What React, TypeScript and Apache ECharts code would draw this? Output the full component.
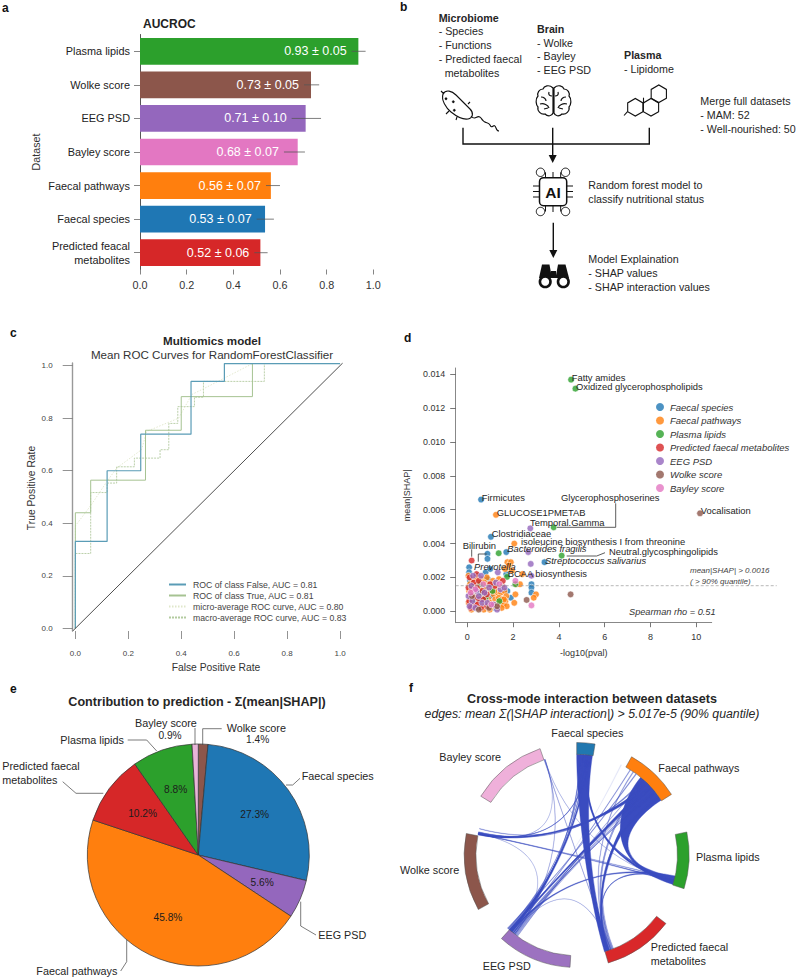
import React, { useEffect, useRef } from "react";
import * as echarts from "echarts";

const FONT = "Liberation Sans";
const C = {
  species: "#1f77b4", pathways: "#ff7f0e", plasma: "#2ca02c", pred: "#d62728",
  eeg: "#9467bd", wolke: "#8c564b", bayley: "#e377c2",
};

// ---- panel a
const aCategories = ["Plasma lipids", "Wolke score", "EEG PSD", "Bayley score", "Faecal pathways", "Faecal species", "Predicted feacal\nmetabolites"];
const aValues = [0.936, 0.733, 0.71, 0.676, 0.561, 0.536, 0.516];
const aColors = [C.plasma, C.wolke, C.eeg, C.bayley, C.pathways, C.species, C.pred];
const aLow = [0.907, 0.703, 0.65, 0.617, 0.54, 0.5, 0.49];
const aHigh = [0.967, 0.768, 0.776, 0.707, 0.6, 0.574, 0.547];
const aLabels = ["0.93 ± 0.05", "0.73 ± 0.05", "0.71 ± 0.10", "0.68 ± 0.07", "0.56 ± 0.07", "0.53 ± 0.07", "0.52 ± 0.06"];

// ---- panel c
const rocFalse = [[0,0],[0,0.331],[0.12,0.331],[0.12,0.6],[0.247,0.6],[0.247,0.739],[0.437,0.739],[0.437,0.94],[0.563,0.94],[0.563,1.008],[1,1.008]];
const rocTrue = [[0,0],[0,0.44],[0.058,0.44],[0.058,0.564],[0.265,0.564],[0.265,0.754],[0.4,0.754],[0.4,0.882],[0.669,0.882],[0.669,1.008],[1,1.008]];
const rocMicro = [[0,0],[0,0.39],[0.06,0.47],[0.12,0.56],[0.156,0.61],[0.25,0.68],[0.27,0.75],[0.39,0.8],[0.44,0.89],[0.5,0.92],[0.67,1.008],[1,1.008]];
const rocMacro = [[0,0],[0,0.285],[0.058,0.285],[0.058,0.517],[0.12,0.517],[0.12,0.553],[0.156,0.553],[0.156,0.615],[0.223,0.615],[0.223,0.648],[0.32,0.648],[0.32,0.68],[0.353,0.68],[0.353,0.78],[0.387,0.78],[0.387,0.844],[0.45,0.844],[0.45,0.88],[0.484,0.88],[0.484,0.94],[0.714,0.94],[0.714,1.008],[1,1.008]];
const rocDiagonal = [[-0.01,-0.01],[1.01,1.01]];
const rocNames = ["ROC of class False, AUC = 0.81", "ROC of class True, AUC = 0.81", "micro-average ROC curve, AUC = 0.80", "macro-average ROC curve, AUC = 0.83"];

// ---- panel d
const ptsSpecies = [[0.6,0.0066],[1.03,0.0044],[1.7,0.0035],[3.37,0.0029],[0.88,0.0034],[0.88,0.0031],[0.08,0.0026],[0.08,0.0023],[0.8,0.0023],[1.7,0.0022],[2.8,0.0016],[2.8,0.0014],[2.8,0.0011],[1.9,0.0008],[1.75,0.0012],[1.0,0.0025],[0.12,0.0018],[0.35,0.0011],[0.55,0.0005],[0.72,0.0014],[1.05,0.0009],[1.2,0.0002],[0.25,0.0004],[0.9,0.0019],[0.45,0.0021]];
const ptsPathways = [[1.25,0.0057],[2.05,0.004],[1.75,0.0029],[1.9,0.0029],[1.8,0.0027],[1.65,0.0025],[1.95,0.0024],[2.4,0.0022],[2.15,0.0016],[2.3,0.0016],[2.1,0.001],[2.05,0.0005],[3.0,0.001],[2.9,0.0008],[0.05,0.0021],[0.22,0.0019],[0.38,0.002],[0.62,0.0019],[0.85,0.002],[0.12,0.0016],[0.3,0.0015],[0.47,0.0017],[0.74,0.0017],[0.95,0.0016],[1.12,0.0018],[1.38,0.0019],[0.08,0.0012],[0.26,0.0012],[0.55,0.0013],[0.82,0.0013],[1.02,0.0012],[1.28,0.0014],[1.53,0.0015],[0.15,0.0008],[0.4,0.0009],[0.66,0.0009],[0.92,0.0007],[1.15,0.001],[1.33,0.0011],[1.47,0.0011],[1.62,0.0012],[1.7,0.0009],[0.06,0.0005],[0.33,0.0005],[0.58,0.0003],[0.78,0.0004],[1.03,0.0005],[1.22,0.0007],[1.38,0.0008],[1.52,0.0007],[1.66,0.0006],[0.18,0.0001],[0.44,0.0002],[0.72,0.0001],[1.1,0.0003],[1.28,0.0004],[1.44,0.0005],[1.58,0.0004],[1.72,0.0003],[1.35,0.0002],[1.5,0.0002],[0.98,0.0001],[1.6,0.0007],[1.18,0.0012]];
const ptsPlasma = [[4.53,0.01368],[4.72,0.01315],[3.77,0.00496],[4.12,0.00329],[1.37,0.00343],[1.73,0.00203],[0.55,0.0016],[1.1,0.0012],[2.1,0.0016],[0.3,0.0007],[0.8,0.0008],[1.4,0.0006],[0.6,0.0011]];
const ptsPred = [[0.19,0.003],[0.4,0.0022],[0.1,0.002],[0.28,0.0017],[0.5,0.0018],[0.05,0.0014],[0.2,0.0013],[0.42,0.0014],[0.65,0.0012],[0.12,0.001],[0.32,0.0008],[0.52,0.0007],[0.85,0.001],[0.08,0.0006],[0.25,0.0003],[0.43,0.0004],[0.7,0.0007],[0.85,0.0003],[1.2,0.0015],[1.0,0.0016],[1.55,0.0018],[0.6,0.0002],[0.15,0.0002]];
const ptsEeg = [[2.75,0.0049],[2.66,0.0035],[2.77,0.0028],[2.8,0.0021],[1.33,0.0023],[0.25,0.0021],[0.6,0.0021],[0.18,0.0015],[0.4,0.0012],[0.05,0.0009],[0.22,0.0006],[0.5,0.0009],[0.75,0.0011],[0.95,0.0014],[1.25,0.0017],[1.45,0.0013],[0.1,0.0003],[0.35,0.0002],[0.65,0.0005],[0.88,0.0005],[1.15,0.0004],[1.3,0.0001],[1.62,0.0014]];
const ptsWolke = [[10.16,0.00579],[4.51,0.001],[2.59,0.00067],[1.3,0.0003],[0.5,0.0001],[0.2,0.0009],[0.95,0.0002]];
const ptsBayley = [[2.8,0.00035],[2.1,0.0018],[1.4,0.0016],[0.7,0.0016],[0.35,0.0013],[1.05,0.0004],[0.15,0.0011]];
const dNames = ["Faecal species", "Faecal pathways", "Plasma lipids", "Predicted faecal metabolites", "EEG PSD", "Wolke score", "Bayley score"];
const dSets = [ptsSpecies, ptsPathways, ptsPlasma, ptsPred, ptsEeg, ptsWolke, ptsBayley];
const dColors = [C.species, C.pathways, C.plasma, C.pred, C.eeg, C.wolke, C.bayley];

// ---- panel e
const pieNames = ["Wolke score", "Faecal species", "EEG PSD", "Faecal pathways", "Predicted faecal metabolites", "Plasma lipids", "Bayley score"];
const pieValues = [1.4, 27.3, 5.6, 45.8, 10.2, 8.8, 0.9];
const pieColors = [C.wolke, C.species, C.eeg, C.pathways, C.pred, C.plasma, "#e8b4d8"];

// ---- panel f: [startAngle, endAngle] in degrees, counter-clockwise from east
const arcAngles = [[90,80.6],[60.8,32.6],[11.8,-17.4],[-37.5,-73.7],[-93.4,-132],[-151,-191],[148.5,109]];
const arcColors = ["#2178b0", C.pathways, C.plasma, "#d9282a", "#9c72c0", C.wolke, "#efb0da"];
// ribbons: from angle a1, a2 to angle b1, b2, opacity, optional curve pull at each end
const ribbons: number[][] = [
  [90,81,-71,-74,1,0.5,0.35],
  [50.5,33,-14,-17,1,0.62,0.25],
  [46,44,168.5,167.5,1,0.6,0.3],
  [45,43,-131,-132,1,0.6,0.3],
  [42,39,-71.5,-72.5,1,0.6,0.3],
  [85,83.5,-14,-16,1],
  [83.5,82.5,-130,-132,1],
  [82.5,82,167.5,167,0.9],
  [44,43.7,-128,-128.3,0.6],
  [43,42.7,-129,-129.3,0.6],
  [42,41.7,-127,-127.3,0.5],
  [40,39.7,-127.5,-127.8,0.6],
  [39,38.7,-126.5,-126.8,0.5],
  [48,47.7,-126,-126.3,0.5],
  [47,46.7,-70,-70.4,0.6],
  [46,45.7,-69,-69.4,0.6],
  [36,35.7,-69.5,-69.8,0.6],
  [35,34.7,-68.5,-68.8,0.5],
  [49,48.7,167,166.7,0.7],
  [48.5,48.2,165,164.7,0.6],
  [85,84.6,-130.5,-131,0.8],
  [84.5,84,-13,-14,0.9],
  [86.5,86,-133,-132,0.7],
  [88,87.5,-129,-129.5,0.8],
  [109,108.7,-70,-70.3,0.5],
  [108.7,108.5,-15,-15.2,0.4],
  [108.5,108.3,-128,-128.3,0.5],
  [108.4,108.2,167.5,167.2,0.4],
  [168,167.8,-15,-15.6,0.8],
  [167.8,167.6,-13.5,-14,0.6],
  [167.6,167.4,-128,-128.3,0.4],
  [-130,-131,-12,-13,0.95],
  [-129,-129.3,-70,-70.4,0.4],
  [-71,-72,-12.5,-13.5,0.85],
  [38,37.8,-128.5,-129,0.6],
  [56,55.5,-70.5,-71,0.5],
  [58,57.6,-129.5,-130,0.5],
  [54,53.5,-133,-133.5,0.6],
  [64,63.5,-128,-127.7,0.1],
];

const T = (x: number, y: number, text: string, o: any = {}) => ({
  type: "text", x, y, z: 100, silent: true, rotation: o.rot ?? 0,
  style: {
    text, fontFamily: FONT, fontSize: o.size ?? 10.7, fontWeight: o.bold ? "bold" : "normal",
    fontStyle: o.italic ? "italic" : "normal", fill: o.color ?? "#262626",
    align: o.align ?? "left", verticalAlign: "middle",
  },
});
const L = (pts: number[][], o: any = {}) => ({
  type: "polyline", z: o.z ?? 99, silent: true, shape: { points: pts },
  style: { stroke: o.color ?? "#444", lineWidth: o.w ?? 0.8, fill: "none", lineDash: o.dash },
});
const P = (pts: number[][], fill = "#111") => ({
  type: "polygon", z: 99, silent: true, shape: { points: pts }, style: { fill },
});
const Ci = (cx: number, cy: number, r: number, stroke: string, w: number, fill = "#fff") => ({
  type: "circle", z: 100, silent: true, shape: { cx, cy, r }, style: { stroke, lineWidth: w, fill },
});
const hex = (cx: number, cy: number, r: number) => {
  const out: number[][] = [];
  for (let i = 0; i < 6; i++) {
    const a = (Math.PI / 3) * i + Math.PI / 6;
    out.push([cx + r * Math.cos(a), cy + r * Math.sin(a)]);
  }
  return out;
};

const BACTERIA = "M443 94 C446 89 452 91 456 95 L470 109 C474 113 473 118 468 119 C462 120 456 116 451 112 C446 108 441 100 443 94 Z M471 116 C476 122 477 113 481 118 C485 125 488 121 490 125 C492 130 494 122 496 128 C497 131 498 131 499 131 M441 91 L444 94 M468 104 L470 102 M446 114 L449 111 M456 120 L457 117";
const BRAIN = "M553 88 C549 84 544 86 543 89 C539 89 537 93 538 96 C535 99 536 105 538 107 C537 111 541 115 545 114 C548 117 552 116 553 113 Z M554 88 C558 84 563 86 564 89 C568 89 570 93 569 96 C572 99 571 105 569 107 C570 111 566 115 562 114 C559 117 555 116 554 113 Z M541 97 C544 97 546 99 546 101 M540 104 C544 103 548 105 549 108 M549 92 C548 95 550 96 552 96 M544 109 L548 108 M566 97 C563 97 561 99 561 101 M567 104 C563 103 559 105 558 108 M558 92 C559 95 557 96 555 96 M563 109 L559 108";
echarts.graphic.registerShape("bacteriaIcon", echarts.graphic.extendPath(BACTERIA, {}) as any);
echarts.graphic.registerShape("brainIcon", echarts.graphic.extendPath(BRAIN, {}) as any);

const CX = 576.7, CY = 855, RO = 112.5, RI = 100.7, K = 0.35;
const pol = (a: number, r: number) => {
  const t = (a * Math.PI) / 180;
  return [CX + r * Math.cos(t), CY - r * Math.sin(t)];
};

function buildGraphic() {
  const g: any[] = [];
  // panel letters
  [["a", 2, 8], ["b", 400, 7], ["c", 10, 333], ["d", 404, 338], ["e", 10, 689], ["f", 409, 688]].forEach(([s, x, y]: any) =>
    g.push(T(x, y, s, { bold: true, size: 12, color: "#111" })));
  // panel a
  g.push(T(143, 24, "AUCROC", { bold: true, size: 12, color: "#222" }));

  // panel b text
  g.push(T(438.7, 17.5, "Microbiome", { bold: true }));
  [["- Species", 31], ["- Functions", 45], ["- Predicted faecal", 59]].forEach(([s, y]: any) => g.push(T(438.7, y, s)));
  g.push(T(444.7, 73, "metabolites"));
  g.push(T(537, 28.7, "Brain", { bold: true }));
  [["- Wolke", 42.5], ["- Bayley", 56], ["- EEG PSD", 70]].forEach(([s, y]: any) => g.push(T(537, y, s)));
  g.push(T(624, 55, "Plasma", { bold: true }));
  g.push(T(624, 69, "- Lipidome"));
  [["Merge full datasets", 101], ["- MAM: 52", 115], ["- Well-nourished: 50", 129]].forEach(([s, y]: any) => g.push(T(700.3, y, s)));
  [["Random forest model to", 185], ["classify nutritional status", 199]].forEach(([s, y]: any) => g.push(T(588.3, y, s)));
  [["Model Explaination", 259], ["- SHAP values", 273], ["- SHAP interaction values", 287]].forEach(([s, y]: any) => g.push(T(588.3, y, s)));
  // panel b icons
  g.push({ type: "bacteriaIcon", z: 99, silent: true, style: { stroke: "#111", lineWidth: 1.1, fill: "none" } });
  [[446, 98.7], [453.3, 101.7], [454.3, 110.3]].forEach(([x, y]) => g.push(Ci(x, y, 1.2, "#111", 0.3, "#111")));
  g.push({ type: "brainIcon", z: 99, silent: true, style: { stroke: "#111", lineWidth: 1.2, fill: "none" } });
  [hex(635.3, 107.3, 8.8), hex(651, 107.3, 8.8), hex(658.8, 93.8, 8.8)].forEach((pts) =>
    g.push({ type: "polygon", z: 99, silent: true, shape: { points: pts }, style: { stroke: "#111", lineWidth: 1.1, fill: "none" } }));
  g.push(L([[627.5, 111.7], [624, 115.5]], { color: "#111", w: 1.1 }));
  g.push(L([[643.5, 97.7], [643.5, 104]], { color: "#111", w: 1.1 }));
  // connectors
  [[[463, 127.7], [463, 144], [649.3, 144], [649.3, 127.7]], [[552.7, 127.7], [552.7, 156]], [[553.3, 222.7], [553.3, 251]]].forEach((p) =>
    g.push(L(p, { color: "#111", w: 1.4 })));
  g.push(P([[548.7, 155], [556.7, 155], [552.7, 163]]));
  g.push(P([[549.3, 250], [557.3, 250], [553.3, 258]]));
  // chip
  g.push({ type: "rect", z: 99, silent: true, shape: { x: 539.5, y: 177.7, width: 27.2, height: 28, r: 4 }, style: { stroke: "#111", lineWidth: 1.5, fill: "#fff" } });
  g.push(T(553, 192, "AI", { bold: true, size: 15.5, align: "center", color: "#111" }));
  [186, 191.5, 197].forEach((y) => {
    g.push(L([[533, y], [539.5, y]], { color: "#111", w: 1 }));
    g.push(L([[566.7, y], [573, y]], { color: "#111", w: 1 }));
  });
  g.push(L([[553, 172], [553, 177.7]], { color: "#111", w: 1 }));
  g.push(L([[553, 205.7], [553, 212]], { color: "#111", w: 1 }));
  [[540.5, 172.3, 545.5], [565.5, 172.3, 560.7], [540.5, 211.5, 545.5], [565.5, 211.5, 560.7]].forEach(([x, y, lx]) => {
    g.push(L([[lx, y > 190 ? 205.7 : 177.7], [lx, y]], { color: "#111", w: 1 }));
    g.push(Ci(x, y, 4.2, "#111", 1, "none"));
  });
  // binoculars
  g.push(P([[542, 264.5], [549.5, 264.5], [552, 278], [539, 278]]));
  g.push(P([[558, 264.5], [565.5, 264.5], [569, 278], [555.5, 278]]));
  g.push(P([[551, 271], [556, 271], [556, 278], [551, 278]]));
  g.push(Ci(545.2, 281.7, 5.3, "#111", 2.6));
  g.push(Ci(563.3, 281.7, 5.3, "#111", 2.6));

  // panel c titles and axis names
  g.push(T(212, 340, "Multiomics model", { bold: true, size: 11.6, align: "center" }));
  g.push(T(212, 354, "Mean ROC Curves for RandomForestClassifier", { size: 11.6, align: "center", color: "#333" }));
  g.push(T(216, 667.7, "False Positive Rate", { size: 10.3, align: "center", color: "#333" }));
  g.push(T(31, 488, "True Positive Rate", { size: 10.3, align: "center", color: "#333", rot: Math.PI / 2 }));

  // panel d annotations
  const A = (x: number, y: number, s: string, it = false) => g.push(T(x, y, s, { size: 9.4, italic: it }));
  A(571.7, 377.3, "Fatty amides");
  A(576, 386, "Oxidized glycerophospholipids");
  A(481.7, 497.3, "Firmicutes");
  A(496.7, 512.3, "GLUCOSE1PMETAB");
  A(561, 497.3, "Glycerophosphoserines");
  A(530, 522, "Temporal.Gamma");
  A(491.7, 533.3, "Clostridiaceae");
  A(462.7, 545, "Bilirubin");
  A(521, 541, "isoleucine biosynthesis I from threonine");
  A(507.3, 548.3, "Bacteroides fragilis", true);
  A(609, 551.7, "Neutral.glycosphingolipids");
  A(545, 560.7, "Streptococcus salivarius", true);
  A(474, 566, "Prevotella", true);
  A(507.7, 573.3, "BCAA biosynthesis");
  A(700.7, 510, "Vocalisation");
  g.push(T(690, 570.7, "mean|SHAP| > 0.0016", { size: 8, italic: true, color: "#444" }));
  g.push(T(690, 581.3, "( > 90% quantile)", { size: 8, italic: true, color: "#444" }));
  g.push(T(629, 611.7, "Spearman rho = 0.51", { size: 9.2, italic: true, color: "#333" }));
  g.push(L([[455.7, 585.7], [776.7, 585.7]], { color: "#999", w: 0.7, dash: [3, 2] }));
  g.push(L([[557, 527.3], [615.7, 527.3], [615.7, 503.3]], { color: "#333", w: 0.8 }));
  g.push(L([[566.7, 556], [596.7, 556], [605, 552.7]], { color: "#333", w: 0.8 }));
  g.push(L([[471.7, 549.3], [471.7, 556.7]], { color: "#333", w: 0.8 }));
  g.push(L([[478.3, 561.7], [478.3, 554], [486.7, 554]], { color: "#333", w: 0.8 }));

  // panel e
  g.push(T(197, 701.7, "Contribution to prediction - Σ(mean|SHAP|)", { bold: true, size: 12.6, align: "center" }));
  g.push(T(301.7, 776, "Faecal species", { size: 10.8 }));
  g.push(T(318.3, 935.3, "EEG PSD", { size: 10.8 }));
  g.push(T(36.3, 971, "Faecal pathways", { size: 10.8 }));
  g.push(T(2.3, 766.3, "Predicted faecal", { size: 10.8 }));
  g.push(T(2.3, 780, "metabolites", { size: 10.8 }));
  g.push(T(60.3, 740, "Plasma lipids", { size: 10.8 }));
  g.push(T(135, 723.3, "Bayley score", { size: 10.8 }));
  g.push(T(170, 735.7, "0.9%", { size: 10.2, align: "center" }));
  g.push(T(226.7, 728.3, "Wolke score", { size: 10.8 }));
  g.push(T(257.7, 739, "1.4%", { size: 10.2, align: "center" }));
  [
    [[286, 785], [292.7, 785], [300, 778.3]],
    [[300.7, 901.7], [300.7, 926], [316, 935]],
    [[126.7, 940], [126.7, 961.7], [120.7, 971]],
    [[103.3, 793.3], [76, 793.3], [62.7, 781.7]],
    [[156.7, 751], [146.7, 740], [127.7, 740]],
    [[195, 745], [195, 728]],
    [[202.7, 745], [202.7, 728.7], [221.7, 728.7]],
  ].forEach((p) => g.push(L(p, { color: "#444", w: 0.7 })));

  // panel f
  g.push(T(592, 698.7, "Cross-mode interaction between datasets", { bold: true, size: 12.6, align: "center" }));
  g.push(T(592, 714, "edges: mean Σ(|SHAP interaction|) > 5.017e-5 (90% quantile)", { italic: true, size: 12.3, align: "center" }));
  [
    ["Faecal species", 551.3, 732.7], ["Bayley score", 439.3, 757.3], ["Faecal pathways", 658.3, 767.7],
    ["Plasma lipids", 696, 857.3], ["Wolke score", 400, 870], ["Predicted faecal", 650.7, 947],
    ["metabolites", 650.7, 961], ["EEG PSD", 482.7, 966],
  ].forEach(([s, x, y]: any) => g.push(T(x, y, s, { size: 10.8 })));
  arcAngles.forEach(([a1, a2], i) =>
    g.push({
      type: "sector", z: 98, silent: true,
      shape: { cx: CX, cy: CY, r0: RI, r: RO, startAngle: (-a1 * Math.PI) / 180, endAngle: (-a2 * Math.PI) / 180, clockwise: true },
      style: { fill: arcColors[i], stroke: "#555", lineWidth: 0.5 },
    }));
  return g;
}

const axisBase = { fontFamily: FONT, color: "#333" };
const fmt1 = (v: number) => v.toFixed(1);
const ticks01 = [0, 0.2, 0.4, 0.6, 0.8, 1];
const dXTicks = [0, 2, 4, 6, 8, 10];
const dYTicks = [0, 0.002, 0.004, 0.006, 0.008, 0.01, 0.012, 0.014];

function buildOption(): any {
  const series: any[] = [
    // panel a
    {
      type: "bar", xAxisIndex: 0, yAxisIndex: 0, barWidth: 26.7, silent: true,
      data: aValues.map((v, i) => ({ value: v, itemStyle: { color: aColors[i] } })),
    },
    {
      type: "custom", xAxisIndex: 0, yAxisIndex: 0, silent: true, z: 5,
      data: aLow.map((v, i) => [v, i, aHigh[i]]),
      encode: { x: [0, 2], y: 1 },
      renderItem: (p: any, api: any) => {
        const a = api.coord([api.value(0), api.value(1)]);
        const b = api.coord([api.value(2), api.value(1)]);
        return {
          type: "group",
          children: [
            { type: "line", shape: { x1: a[0], y1: a[1], x2: b[0], y2: b[1] }, style: { stroke: "#555", lineWidth: 0.9, opacity: 0.85 } },
            { type: "text", x: a[0] - 5, y: a[1], style: { text: aLabels[p.dataIndex], fill: "#fff", fontFamily: FONT, fontSize: 12.5, align: "right", verticalAlign: "middle" } },
          ],
        };
      },
    },
    // panel c
    ...[
      { d: rocMacro, c: "#b3cba0", t: [2, 1], w: 0.9, n: rocNames[3] },
      { d: rocMicro, c: "#e0e7ca", t: [1.5, 1.5], w: 0.9, n: rocNames[2] },
      { d: rocTrue, c: "#a6c392", t: "solid", w: 1, n: rocNames[1] },
      { d: rocFalse, c: "#5a9cb6", t: "solid", w: 1.2, n: rocNames[0] },
    ].map((s) => ({
      type: "line", name: s.n, xAxisIndex: 1, yAxisIndex: 1, data: s.d, symbol: "none", silent: true,
      lineStyle: { color: s.c, type: s.t, width: s.w }, itemStyle: { color: s.c },
    })),
    {
      type: "line", name: "diagonal", xAxisIndex: 1, yAxisIndex: 1, data: rocDiagonal, symbol: "none", silent: true,
      lineStyle: { color: "#222", width: 0.8 },
    },
    // panel d
    ...dNames.map((n, i) => ({
      type: "scatter", name: n, xAxisIndex: 2, yAxisIndex: 2, data: dSets[i], symbolSize: 6.6, silent: true,
      itemStyle: { color: dColors[i], borderColor: "#fff", borderWidth: 0.7 },
    })),
    // panel e
    {
      type: "pie", center: [198.3, 855], radius: 111, startAngle: 90, silent: true, label: { show: false }, labelLine: { show: false },
      data: pieNames.map((n, i) => ({ name: n, value: pieValues[i], itemStyle: { color: pieColors[i], borderColor: "#333", borderWidth: 0.7 } })),
    },
    {
      type: "pie", center: [198.3, 855], radius: [22, 111], startAngle: 90, silent: true, z: 4,
      label: { position: "inner", fontFamily: FONT, fontSize: 10.2, color: "#1c1c1c", formatter: (p: any) => (p.value >= 2 ? p.value.toFixed(1) + "%" : "") },
      labelLine: { show: false },
      data: pieNames.map((n, i) => ({ name: n, value: pieValues[i], itemStyle: { color: "rgba(0,0,0,0)", borderWidth: 0 } })),
    },
    // panel f ribbons
    {
      type: "custom", coordinateSystem: "none", silent: true, z: 3,
      data: ribbons.map((r) => [r[0], r[1], r[2], r[3], r[4], r[5] ?? K, r[6] ?? K]),
      renderItem: (_p: any, api: any) => {
        const a1 = api.value(0), a2 = api.value(1), b1 = api.value(2), b2 = api.value(3);
        const ka = api.value(5), kb = api.value(6);
        const A1 = pol(a1, RI), A2 = pol(a2, RI), B1 = pol(b1, RI), B2 = pol(b2, RI);
        const qa1 = pol(a1, RI * ka), qa2 = pol(a2, RI * ka), qb1 = pol(b1, RI * kb), qb2 = pol(b2, RI * kb);
        const d = `M${A1} A${RI} ${RI} 0 0 1 ${A2} C${qa2} ${qb1} ${B1} A${RI} ${RI} 0 0 1 ${B2} C${qb2} ${qa1} ${A1} Z`;
        return {
          type: "path", shape: { pathData: d },
          style: { fill: "#3a4cc0", stroke: "#3a4cc0", lineWidth: 0.4, opacity: api.value(4) },
        };
      },
    },
  ];

  return {
    animation: false,
    backgroundColor: "#fff",
    textStyle: { fontFamily: FONT },
    grid: [
      { left: 140, top: 34.5, width: 233.3, height: 235 },
      { left: 72.7, top: 363, width: 270, height: 268 },
      { left: 455.7, top: 368, width: 256, height: 254.7 },
    ],
    xAxis: [
      {
        type: "value", gridIndex: 0, min: 0, max: 1, interval: 0.2,
        axisLine: { show: false }, splitLine: { show: false },
        axisTick: { show: true, length: 5, lineStyle: { color: "#666", width: 0.8 } },
        axisLabel: { ...axisBase, fontSize: 10.8, margin: 10, formatter: fmt1 },
      },
      {
        type: "value", gridIndex: 1, min: -0.01, max: 1.01, axisLine: { show: false, onZero: false }, splitLine: { show: false },
        axisTick: { show: true, length: 8, customValues: ticks01, lineStyle: { color: "#777", width: 0.8 } },
        axisLabel: { ...axisBase, fontSize: 8, margin: 18, color: "#444", customValues: ticks01, formatter: fmt1 },
      },
      {
        type: "value", gridIndex: 2, min: -0.507, max: 10.67, splitLine: { show: false },
        axisLine: { show: true, onZero: false, lineStyle: { color: "#888", width: 1 } },
        axisTick: { show: true, length: 4.5, customValues: dXTicks, lineStyle: { color: "#555", width: 0.8 } },
        axisLabel: { ...axisBase, fontSize: 9, margin: 9.5, customValues: dXTicks },
        name: "-log10(pval)", nameLocation: "middle", nameGap: 26,
        nameTextStyle: { fontFamily: FONT, fontSize: 9, color: "#333" },
      },
    ],
    yAxis: [
      {
        type: "category", gridIndex: 0, inverse: true, data: aCategories,
        axisLine: { show: true, lineStyle: { color: "#444", width: 0.9 } },
        axisTick: { show: true, length: 6, alignWithLabel: true, lineStyle: { color: "#666", width: 0.8 } },
        axisLabel: { ...axisBase, fontSize: 10.9, margin: 10, color: "#222", lineHeight: 14 },
        name: "Dataset", nameLocation: "middle", nameGap: 99,
        nameTextStyle: { fontFamily: FONT, fontSize: 10.7, color: "#333" },
      },
      {
        type: "value", gridIndex: 1, min: -0.01, max: 1.01, splitLine: { show: false },
        axisLine: { show: true, onZero: false, lineStyle: { color: "#999", width: 1.4 } },
        axisTick: { show: true, length: 10, customValues: ticks01, lineStyle: { color: "#777", width: 0.8 } },
        axisLabel: { ...axisBase, fontSize: 8, margin: 20, color: "#444", customValues: ticks01, formatter: fmt1 },
      },
      {
        type: "value", gridIndex: 2, min: -0.000673, max: 0.01437, splitLine: { show: false },
        axisLine: { show: true, onZero: false, lineStyle: { color: "#888", width: 1 } },
        axisTick: { show: true, length: 5.5, customValues: dYTicks, lineStyle: { color: "#555", width: 0.8 } },
        axisLabel: { ...axisBase, fontSize: 8.9, margin: 10.5, customValues: dYTicks, formatter: (v: number) => v.toFixed(3) },
        name: "mean|SHAP|", nameLocation: "middle", nameGap: 44,
        nameTextStyle: { fontFamily: FONT, fontSize: 9, color: "#333" },
      },
    ],
    legend: [
      {
        data: rocNames, left: 168, top: 580, padding: 0, orient: "vertical", itemWidth: 17, itemHeight: 10, itemGap: 2,
        selectedMode: false, itemStyle: { opacity: 0 },
        textStyle: { fontFamily: FONT, fontSize: 8.7, color: "#444", padding: [0, 0, 0, 2] },
      },
      {
        data: dNames, left: 656, top: 402, padding: 0, orient: "vertical", icon: "circle", itemWidth: 8, itemHeight: 8, itemGap: 3.5,
        selectedMode: false, itemStyle: { borderWidth: 0 },
        textStyle: { fontFamily: FONT, fontSize: 9.5, fontStyle: "italic", color: "#333", padding: [0, 0, 0, 1] },
      },
    ],
    series,
    graphic: { elements: buildGraphic() },
  };
}

export default function App() {
  const ref = useRef<HTMLDivElement>(null);
  useEffect(() => {
    const chart = echarts.init(ref.current!, undefined, { renderer: "svg" });
    chart.setOption(buildOption());
    return () => chart.dispose();
  }, []);
  return <div ref={ref} style={{ position: "absolute", left: 0, top: 0, width: 799, height: 977 }} />;
}
